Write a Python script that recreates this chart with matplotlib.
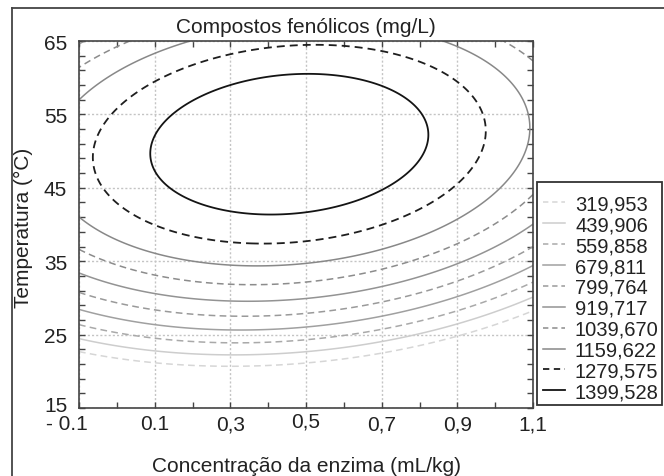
import numpy as np
import matplotlib.pyplot as plt
from matplotlib.lines import Line2D
from matplotlib.patches import Rectangle
from matplotlib.transforms import ScaledTranslation

plt.rcParams['font.family'] = ['Liberation Sans', 'DejaVu Sans']

# niveis das curvas e legenda
niveis = [319.953, 439.906, 559.858, 679.811, 799.764, 919.717,
          1039.670, 1159.622, 1279.575, 1399.528]
rotulos = ['319,953', '439,906', '559,858', '679,811', '799,764', '919,717',
           '1039,670', '1159,622', '1279,575', '1399,528']
cores = ['#d6d6d6', '#cdcdcd', '#a9a9a9', '#a0a0a0', '#9a9a9a', '#939393',
         '#8c8c8c', '#888888', '#1e1e1e', '#141414']
tracejado = [True, False, True, False, True, False, True, False, True, False]

# eixos
xticks = [-0.1, 0.1, 0.3, 0.5, 0.7, 0.9, 1.1]
xticklabels = ['- 0.1', '0.1', '0,3', '0,5', '0,7', '0,9', '1,1']
yticks = [15, 25, 35, 45, 55, 65]

# pontos lidos sobre as curvas: enzima (mL/kg), temperatura (C), nivel
pt_enzima = [
    0.088, 0.10, 0.10, 0.149, 0.136, 0.50, 0.40, 0.50, 0.806, 0.709, 0.819,
    -0.066, -0.027, -0.04, 0.1, 0.1, 0.3, 0.5, 0.7, 0.9, 0.967, 0.97, 0.916, 0.3, 0.48, 0.7,
    -0.1, 0.215, 0.88, 1.09, 1.03, -0.1, 0.1, 0.3, 0.48, 0.7, 0.854, 0.9, 0.986,
    -0.1, 0.02, 1.05, 1.1, -0.1, 0.1, 0.3, 0.48, 0.7, 0.854, 0.9, 1.1,
    -0.1, 0.1, 0.3, 0.48, 0.7, 0.854, 0.9, 1.1,
    -0.1, 0.1, 0.3, 0.48, 0.7, 0.854, 0.9, 1.1,
    -0.1, 0.1, 0.3, 0.48, 0.7, 0.854, 0.9, 1.1,
    -0.1, 0.1, 0.3, 0.48, 0.7, 0.854, 0.9, 1.1,
    -0.1, 0.1, 0.3, 0.48, 0.7, 0.854, 0.9, 1.1,
    -0.1, 0.1, 0.3, 0.48, 0.7, 0.854, 0.9, 1.1,
]
pt_temp = [
    49.4, 52.1, 46.2, 55, 45, 60.5, 41.7, 41.9, 55, 45, 52.6,
    49.6, 55, 45, 59.45, 40.07, 63.2, 64.3, 62.8, 58.9, 55, 52.6, 45, 37.6, 37.8, 39.8,
    56.9, 65, 65, 55, 45, 40.8, 36.0, 34.5, 34.7, 36.7, 39.4, 40.5, 43.5,
    61.3, 65, 65, 61.6, 36.6, 33.3, 31.9, 31.9, 33.3, 36.9, 37.8, 43.5,
    33.3, 31.0, 29.6, 29.75, 30.8, 34.4, 35.1, 40.3,
    30.8, 28.5, 27.7, 27.8, 29.2, 31.4, 32.1, 36.9,
    28.1, 26.7, 25.6, 26.0, 27.1, 29.3, 30.0, 34.6,
    26.3, 24.6, 24.0, 24.3, 25.6, 27.6, 28.3, 32.7,
    24.5, 22.8, 22.1, 22.6, 24.1, 25.9, 26.4, 30.1,
    22.8, 21.0, 20.6, 21.0, 22.6, 24.2, 24.85, 28.3,
]
pt_nivel = ([1399.528] * 11 + [1279.575] * 15 + [1159.622] * 13 + [1039.670] * 12
            + [919.717] * 8 + [799.764] * 8 + [679.811] * 8 + [559.858] * 8
            + [439.906] * 8 + [319.953] * 8)

# superficie de resposta (modelo quadratico ajustado aos pontos lidos)
x = np.array(pt_enzima)
t = np.array(pt_temp)
z = np.array(pt_nivel)
A = np.column_stack([np.ones_like(x), x, t, x ** 2, t ** 2, x * t])
b = np.linalg.lstsq(A, z, rcond=None)[0]
xg, tg = np.meshgrid(np.linspace(-0.1, 1.1, 400), np.linspace(15, 65, 400))
zg = b[0] + b[1] * xg + b[2] * tg + b[3] * xg ** 2 + b[4] * tg ** 2 + b[5] * xg * tg

W, H = 664, 477
fig = plt.figure(figsize=(W / 100, H / 100), dpi=100)
ax = fig.add_axes([79 / W, 1 - 409 / H, 454 / W, 367 / H])

estilos = [(0, (4.4, 2.8)) if d else 'solid' for d in tracejado]
larguras = [1.3 if c in ('#1e1e1e', '#141414') else 1.1 for c in cores]
ax.contour(xg, tg, zg, levels=niveis, colors=cores, linestyles=estilos,
           linewidths=larguras)

ax.set_xlim(-0.1, 1.1)
ax.set_ylim(15, 65)
ax.set_xticks(xticks)
ax.set_xticklabels(xticklabels)
ax.set_xticks(np.arange(0.0, 1.1, 0.2), minor=True)
ax.set_yticks(yticks)
ax.set_yticks(np.arange(17, 65, 2), minor=True)
ax.grid(True, which='major', color='#c4c4c4', linestyle=(0, (1.5, 1.5)), linewidth=1)
ax.tick_params(which='both', direction='in', top=True, right=True, length=4,
               width=1, color='#444444', labelsize=15, labelcolor='#222222')
ax.tick_params(axis='x', pad=4.5)
ax.tick_params(axis='y', pad=8.5)
for s in ax.spines.values():
    s.set_color('#444444')
    s.set_linewidth(1.2)

xl = ax.get_xticklabels()
xl[0].set_transform(xl[0].get_transform() + ScaledTranslation(-0.12, 0, fig.dpi_scale_trans))
xl[3].set_transform(xl[3].get_transform() + ScaledTranslation(0, 0.03, fig.dpi_scale_trans))
yl = ax.get_yticklabels()
yl[0].set_transform(yl[0].get_transform() + ScaledTranslation(0, 0.04, fig.dpi_scale_trans))

fig.text(305.5 / W, 1 - 33 / H, 'Compostos fenólicos (mg/L)', ha='center',
         va='baseline', fontsize=15, color='#222222')
fig.text(306 / W, 1 - 472 / H, 'Concentração da enzima (mL/kg)', ha='center',
         va='baseline', fontsize=15, color='#222222')
fig.text(23 / W, 1 - 228 / H, 'Temperatura (°C)', ha='center', va='center',
         rotation=90, fontsize=15, color='#222222')

# moldura externa
fig.add_artist(Line2D([12 / W, 12 / W], [0, 1 - 9 / H], color='#444444', lw=1.3))
fig.add_artist(Line2D([12 / W, 1], [1 - 9 / H, 1 - 9 / H], color='#444444', lw=1.3))

# legenda
fig.add_artist(Rectangle((537 / W, 1 - 406 / H), 125 / W, 223 / H, fill=False,
                         edgecolor='#333333', lw=1.3))
for i, rot in enumerate(rotulos):
    yc = 203.2 + i * 20.9
    ls = (0, (3.5, 2.5)) if tracejado[i] else 'solid'
    fig.add_artist(Line2D([543 / W, 565 / W], [1 - yc / H, 1 - yc / H], color=cores[i],
                          lw=larguras[i], linestyle=ls))
    fig.text(575 / W, 1 - (yc + 7.2) / H, rot, ha='left', va='baseline',
             fontsize=14.5, color='#222222')

fig.savefig('out.png', dpi=100)
